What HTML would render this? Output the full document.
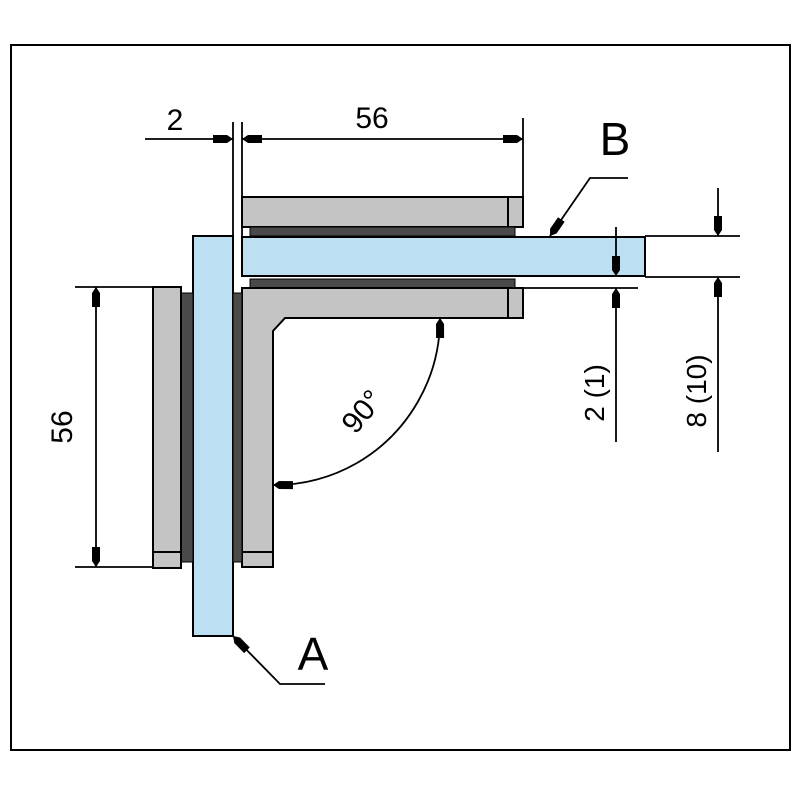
<!DOCTYPE html>
<html><head><style>
html,body{margin:0;padding:0;background:#fff;}
svg{display:block;}
text{font-family:"Liberation Sans",sans-serif;fill:#000;}
</style></head><body>
<svg width="800" height="800" viewBox="0 0 800 800" xmlns="http://www.w3.org/2000/svg">
<defs>
<marker id="ar" viewBox="0 0 20 10" refX="20" refY="5" markerWidth="20" markerHeight="10" markerUnits="userSpaceOnUse" orient="auto">
<path d="M0,1 L14,1 L20,5 L14,9 L0,9 Z" fill="#000"/>
</marker>
</defs>
<rect x="11" y="45" width="779" height="705" fill="#fff" stroke="#000" stroke-width="2"/>

<g stroke="#000" stroke-width="2">
<rect x="242" y="197" width="281" height="30" fill="#c4c4c4"/>
<line x1="508" y1="197" x2="508" y2="227"/>
<rect x="250" y="227" width="265" height="9" fill="#4a4a4a" stroke-width="1"/>
<rect x="250" y="279" width="265" height="9" fill="#4a4a4a" stroke-width="1"/>
<rect x="242" y="237" width="403" height="39" fill="#bcdff2"/>
<rect x="193" y="236" width="40" height="400" fill="#bcdff2"/>
<path d="M242,288 L523,288 L523,318 L285,318 L273,331 L273,567 L242,567 Z" fill="#c4c4c4"/>
<line x1="508" y1="288" x2="508" y2="318"/>
<line x1="242" y1="552" x2="273" y2="552"/>
<rect x="181" y="293" width="12" height="269" fill="#4a4a4a" stroke-width="1"/>
<rect x="233" y="293" width="9" height="269" fill="#4a4a4a" stroke-width="1"/>
<rect x="153" y="287" width="28" height="281" fill="#c4c4c4"/>
<line x1="153" y1="552" x2="181" y2="552"/>
</g>

<g stroke="#000" stroke-width="1.8" fill="none">
<line x1="233" y1="122" x2="233" y2="276"/>
<line x1="242" y1="122" x2="242" y2="236"/>
<line x1="523" y1="118" x2="523" y2="197"/>
<line x1="145" y1="139" x2="233" y2="139" marker-end="url(#ar)"/>
<line x1="300" y1="139" x2="242" y2="139" marker-end="url(#ar)"/>
<line x1="300" y1="139" x2="523" y2="139" marker-end="url(#ar)"/>
<line x1="75" y1="287" x2="153" y2="287"/>
<line x1="75" y1="567" x2="153" y2="567"/>
<line x1="96" y1="420" x2="96" y2="287" marker-end="url(#ar)"/>
<line x1="96" y1="420" x2="96" y2="567" marker-end="url(#ar)"/>
<line x1="645" y1="236" x2="740" y2="236"/>
<line x1="645" y1="277" x2="740" y2="277"/>
<line x1="523" y1="288" x2="638" y2="288"/>
<line x1="616" y1="227" x2="616" y2="276" marker-end="url(#ar)"/>
<line x1="616" y1="442" x2="616" y2="288" marker-end="url(#ar)"/>
<line x1="718" y1="188" x2="718" y2="236" marker-end="url(#ar)"/>
<line x1="718" y1="452" x2="718" y2="277" marker-end="url(#ar)"/>
<path d="M357,463 A167,167 0 0 0 440,318" marker-end="url(#ar)"/>
<path d="M357,463 A167,167 0 0 1 273,485" marker-end="url(#ar)"/>
<path d="M628,178 L590,178 L550,236" marker-end="url(#ar)"/>
<path d="M325,684 L280,684 L233,636" marker-end="url(#ar)"/>
</g>

<text x="175" y="130" font-size="30" text-anchor="middle">2</text>
<text x="372" y="128" font-size="30" text-anchor="middle">56</text>
<text x="615" y="155" font-size="46" text-anchor="middle">B</text>
<text x="313" y="670" font-size="46" text-anchor="middle">A</text>
<text transform="translate(72,427) rotate(-90)" font-size="30" text-anchor="middle">56</text>
<text transform="translate(604,393) rotate(-90)" font-size="28" text-anchor="middle">2 (1)</text>
<text transform="translate(706,391) rotate(-90)" font-size="28" text-anchor="middle">8 (10)</text>
<text transform="translate(370,418) rotate(-50)" font-size="30" text-anchor="middle">90°</text>
</svg>
</body></html>
